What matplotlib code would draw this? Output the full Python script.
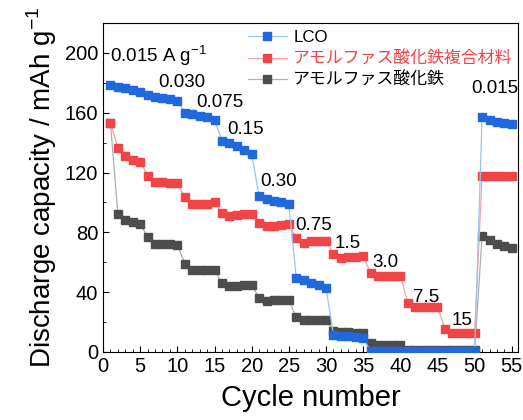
import numpy as np
import matplotlib.pyplot as plt
from matplotlib.ticker import MultipleLocator

cycles = np.arange(1, 56)

lco = [178.5, 177.5, 176.7, 175.0, 174.0, 171.8, 170.7, 170.0, 169.0, 168.0,
       160.0, 159.0, 158.0, 157.0, 155.5, 141.3, 139.5, 137.5, 135.0, 132.5,
       104.2, 102.4, 101.3, 100.2, 98.7, 49.5, 48.0, 46.4, 44.7, 43.0,
       11.3, 10.7, 10.7, 10.2, 9.6, 0.4, 0.4, 0.4, 0.4, 0.4,
       0.4, 0.4, 0.4, 0.4, 0.4, 0.4, 0.4, 0.4, 0.4, 0.4,
       157.3, 155.1, 154.0, 153.1, 152.2]

composite = [153.1, 136.7, 131.3, 128.4, 127.3, 118.0, 114.0, 114.0, 112.9, 112.9,
             103.6, 99.1, 99.1, 99.1, 100.2, 92.9, 90.7, 91.3, 92.0, 92.4,
             86.2, 84.0, 84.0, 84.7, 85.3, 76.2, 73.1, 74.0, 74.2, 74.2,
             65.8, 63.1, 63.6, 63.6, 64.0, 52.9, 50.7, 50.7, 50.7, 50.9,
             32.9, 30.2, 30.2, 30.2, 30.2, 15.6, 12.4, 12.4, 12.4, 12.4,
             118.0, 118.0, 118.0, 118.0, 118.0]

iron_oxide = [153.0, 92.0, 88.4, 86.7, 85.8, 76.9, 72.4, 72.0, 72.0, 71.6,
              59.1, 54.7, 54.9, 54.9, 54.9, 45.8, 44.0, 44.3, 44.7, 44.7,
              36.2, 34.0, 34.7, 34.7, 34.7, 23.1, 21.3, 21.3, 21.3, 21.3,
              14.0, 13.6, 13.6, 12.9, 12.4, 5.8, 4.7, 4.7, 4.7, 4.7,
              1.3, 1.3, 1.3, 1.3, 1.3, 1.0, 1.0, 1.0, 1.0, 1.0,
              77.5, 74.7, 72.4, 70.9, 69.3]

labels = ["LCO", "アモルファス酸化鉄複合材料", "アモルファス酸化鉄"]

# current density labels: (text, x, y)
rates = [("0.015 A g$^{-1}$", 0.9, 198), ("0.030", 7.4, 180), ("0.075", 12.6, 167),
         ("0.15", 16.7, 149), ("0.30", 21.1, 114), ("0.75", 25.9, 84.7),
         ("1.5", 31.2, 72.7), ("3.0", 36.3, 60), ("7.5", 41.7, 36.7),
         ("15", 46.9, 21.3), ("0.015", 49.6, 176)]

plt.rcParams['font.family'] = ['Liberation Sans', 'Noto Sans CJK JP', 'DejaVu Sans']
plt.rcParams['mathtext.fontset'] = 'custom'
plt.rcParams['mathtext.rm'] = 'Liberation Sans'

fig = plt.figure(figsize=(5.23, 4.2), dpi=100)
ax = fig.add_axes([0.197, 0.162, 0.793, 0.783])

h_iron, = ax.plot(cycles, iron_oxide, color="#b0b0b0", lw=0.9, marker="s", ms=5.2,
                  mfc="#4d4d4d", mec="#4d4d4d", zorder=2)
h_comp, = ax.plot(cycles, composite, color="#f7a3a3", lw=0.9, marker="s", ms=5.2,
                  mfc="#f04446", mec="#f04446", zorder=3)
h_lco, = ax.plot(cycles, lco, color="#9cc2f2", lw=0.9, marker="s", ms=5.2,
                 mfc="#1f68de", mec="#1f68de", zorder=4)

for txt, x, y in rates:
    ax.text(x, y, txt, fontsize=13.5, ha="left", va="center")

leg = ax.legend([h_lco, h_comp, h_iron], labels, loc="upper left",
                bbox_to_anchor=(0.32, 1.015), frameon=False, fontsize=12.2,
                handlelength=2.3, handletextpad=0.4, labelspacing=0.32,
                borderaxespad=0.3)
for t, c in zip(leg.get_texts(), ["black", "#f04446", "black"]):
    t.set_color(c)

ax.set_xlim(0, 55.8)
ax.set_ylim(0, 220)
ax.xaxis.set_major_locator(MultipleLocator(5))
ax.xaxis.set_minor_locator(MultipleLocator(1))
ax.yaxis.set_major_locator(MultipleLocator(40))
ax.yaxis.set_minor_locator(MultipleLocator(20))
ax.tick_params(which="both", direction="in", labelsize=14.5)
ax.tick_params(which="major", length=4)
ax.tick_params(which="minor", length=2.5)

ax.set_xlabel("Cycle number", fontsize=21, labelpad=6)
ax.set_ylabel("Discharge capacity / mAh g$^{-1}$", fontsize=20, labelpad=4)

fig.savefig("out.png", dpi=100)
